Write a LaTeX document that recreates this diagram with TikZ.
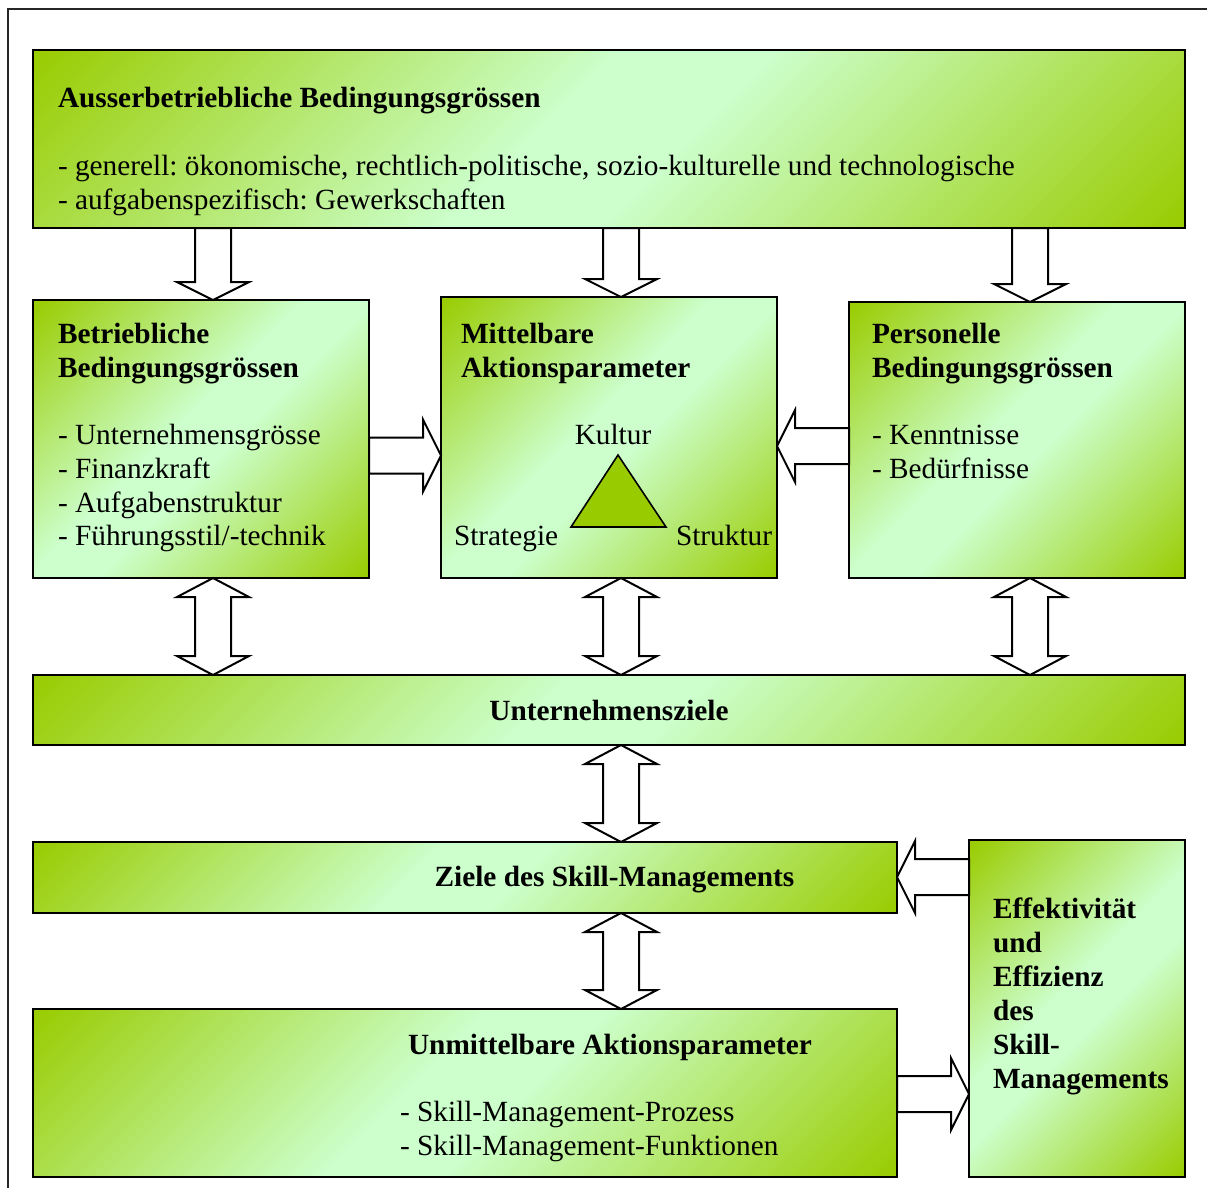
\documentclass[tikz,border=0pt]{standalone}
\usepackage{fontspec}
\setmainfont{Liberation Serif}
\usetikzlibrary{calc}
\frenchspacing
\pgfdeclarehorizontalshading{wordgrad}{100bp}{rgb(0bp)=(0.6,0.8,0); rgb(14.64bp)=(0.6,0.8,0); rgb(46bp)=(0.8,1,0.8); rgb(54bp)=(0.8,1,0.8); rgb(85.36bp)=(0.6,0.8,0); rgb(100bp)=(0.6,0.8,0)}
\newcommand\BArD[2]{\draw[barrow] let \p1=#1, \p2=#2 in (\x1-18pt,\y1) -- (\x1-18pt,\y2+18pt) -- (\x1-36pt,\y2+18pt) -- (\x1,\y2) -- (\x1+36pt,\y2+18pt) -- (\x1+18pt,\y2+18pt) -- (\x1+18pt,\y1) -- cycle;}
\newcommand\BArR[2]{\draw[barrow] let \p1=#1, \p2=#2 in (\x1,\y1-18pt) -- (\x2-18pt,\y1-18pt) -- (\x2-18pt,\y1-36pt) -- (\x2,\y1) -- (\x2-18pt,\y1+36pt) -- (\x2-18pt,\y1+18pt) -- (\x1,\y1+18pt) -- cycle;}
\newcommand\BArL[2]{\draw[barrow] let \p1=#1, \p2=#2 in (\x1,\y1-18pt) -- (\x2+18pt,\y1-18pt) -- (\x2+18pt,\y1-36pt) -- (\x2,\y1) -- (\x2+18pt,\y1+36pt) -- (\x2+18pt,\y1+18pt) -- (\x1,\y1+18pt) -- cycle;}
\newcommand\BArUD[2]{\draw[barrow] let \p1=#1, \p2=#2 in (\x1,\y1) -- (\x1+36pt,\y1-19pt) -- (\x1+18pt,\y1-19pt) -- (\x1+18pt,\y2+19pt) -- (\x1+36pt,\y2+19pt) -- (\x1,\y2) -- (\x1-36pt,\y2+19pt) -- (\x1-18pt,\y2+19pt) -- (\x1-18pt,\y1-19pt) -- (\x1-36pt,\y1-19pt) -- cycle;}
\begin{document}
\begin{tikzpicture}[x=1pt,y=-1pt,
  box/.style={draw=black, line width=2pt, shade, shading=wordgrad, shading angle=-45, inner sep=0pt, outer sep=0pt, rectangle},
  barrow/.style={draw=black, fill=white, line width=2pt, line join=miter},
  txt/.style={inner sep=0pt, outer sep=0pt, font=\fontsize{29.3}{34}\selectfont},
  btxt/.style={txt, font=\fontsize{29.3}{34}\selectfont\bfseries}]
\useasboundingbox (0,0) rectangle (1207,1187);
\clip (0,0) rectangle (1207,1187);
\draw[line width=1.8pt, draw=black!85] (8,9) rectangle (1260,1260);

% boxes
\node[box, minimum width=1152pt, minimum height=178pt] (top) at (609,139) {};
\node[box, minimum width=336pt, minimum height=278pt] (bet) at (201,439) {};
\node[box, minimum width=336pt, minimum height=281pt] (mit) at (609,437.5) {};
\node[box, minimum width=336pt, minimum height=276pt] (per) at (1017,440) {};
\node[box, minimum width=1152pt, minimum height=70pt] (uz) at (609,710) {};
\node[box, minimum width=864pt, minimum height=71pt] (zs) at (465,877.5) {};
\node[box, minimum width=216pt, minimum height=337pt] (eff) at (1077,1008.5) {};
\node[box, minimum width=864pt, minimum height=168pt] (un) at (465,1093) {};

% texts: top box
\node[btxt, anchor=base west] (t1) at ($(top.north west)+(25,57)$) {Ausserbetriebliche Bedingungsgrössen};
\node[txt, anchor=base west] (t2) at ($(top.north west)+(25,125)$) {- generell: ökonomische, rechtlich-politische, sozio-kulturelle und technologische};
\node[txt, anchor=base west] (t3) at ($(top.north west)+(25,159)$) {- aufgabenspezifisch: Gewerkschaften};

% Betriebliche
\node[btxt, anchor=base west] (b1) at ($(bet.north west)+(25,43)$) {Betriebliche};
\node[btxt, anchor=base west] (b2) at ($(bet.north west)+(25,77)$) {Bedingungsgrössen};
\node[txt, anchor=base west] (b3) at ($(bet.north west)+(25,144)$) {- Unternehmensgrösse};
\node[txt, anchor=base west] (b4) at ($(bet.north west)+(25,178)$) {- Finanzkraft};
\node[txt, anchor=base west] (b5) at ($(bet.north west)+(25,212)$) {- Aufgabenstruktur};
\node[txt, anchor=base west] (b6) at ($(bet.north west)+(25,245)$) {- Führungsstil/-technik};

% Mittelbare
\node[btxt, anchor=base west] (m1) at ($(mit.north west)+(20,46)$) {Mittelbare};
\node[btxt, anchor=base west] (m2) at ($(mit.north west)+(20,80)$) {Aktionsparameter};
\node[txt, anchor=base] (m3) at ($(mit.north west)+(172,147)$) {Kultur};
\node[txt, anchor=base west] (m4) at ($(mit.north west)+(13,248)$) {Strategie};
\node[txt, anchor=base west] (m5) at ($(mit.north west)+(235,248)$) {Struktur};
\draw[fill={rgb,255:red,153;green,204;blue,0}, draw=black, line width=1.6pt, line join=miter]
  ($(mit.north west)+(177,158)$) -- ($(mit.north west)+(130,230)$) -- ($(mit.north west)+(225,230)$) -- cycle;

% Personelle
\node[btxt, anchor=base west] (p1) at ($(per.north west)+(23,41)$) {Personelle};
\node[btxt, anchor=base west] (p2) at ($(per.north west)+(23,75)$) {Bedingungsgrössen};
\node[txt, anchor=base west] (p3) at ($(per.north west)+(23,142)$) {- Kenntnisse};
\node[txt, anchor=base west] (p4) at ($(per.north west)+(23,176)$) {- Bedürfnisse};

% Unternehmensziele
\node[btxt, anchor=base] (u1) at (609,720) {Unternehmensziele};
% Ziele des Skill-Managements
\node[btxt, anchor=base] (z1) at (614.5,886) {Ziele des Skill-Managements};

% Effektivitaet
\node[btxt, anchor=base west] (e1) at ($(eff.north west)+(24,78)$) {Effektivität};
\node[btxt, anchor=base west] (e2) at ($(eff.north west)+(24,112)$) {und};
\node[btxt, anchor=base west] (e3) at ($(eff.north west)+(24,146)$) {Effizienz};
\node[btxt, anchor=base west] (e4) at ($(eff.north west)+(24,180)$) {des};
\node[btxt, anchor=base west] (e5) at ($(eff.north west)+(24,214)$) {Skill-};
\node[btxt, anchor=base west] (e6) at ($(eff.north west)+(24,248)$) {Managements};

% Unmittelbare
\node[btxt, anchor=base] (n1) at (610,1054) {Unmittelbare Aktionsparameter};
\node[txt, anchor=base west] (n2) at (400,1121) {- Skill-Management-Prozess};
\node[txt, anchor=base west] (n3) at (400,1155) {- Skill-Management-Funktionen};

% arrow axis coordinates
\coordinate (xa) at (213,0);
\coordinate (xb) at (621,0);
\coordinate (xc) at (1030,0);
\coordinate (ya) at (0,455.5);
\coordinate (yb) at (0,446);
\coordinate (yc) at (0,877);
\coordinate (yd) at (0,1094);

% block arrows
\BArD{(xa |- top.south)}{(xa |- bet.north)}
\BArD{(xb |- top.south)}{(xb |- mit.north)}
\BArD{(xc |- top.south)}{(xc |- per.north)}
\BArR{(bet.east |- ya)}{(mit.west |- ya)}
\BArL{(per.west |- yb)}{(mit.east |- yb)}
\BArUD{(xa |- bet.south)}{(xa |- uz.north)}
\BArUD{(xb |- mit.south)}{(xb |- uz.north)}
\BArUD{(xc |- per.south)}{(xc |- uz.north)}
\BArUD{(xb |- uz.south)}{(xb |- zs.north)}
\BArUD{(xb |- zs.south)}{(xb |- un.north)}
\BArL{(eff.west |- yc)}{(zs.east |- yc)}
\BArR{(un.east |- yd)}{(eff.west |- yd)}
\end{tikzpicture}
\end{document}
